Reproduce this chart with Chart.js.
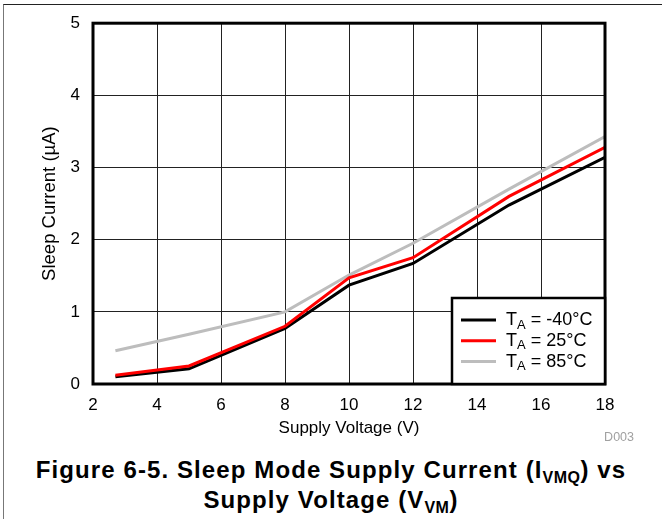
<!DOCTYPE html>
<html>
<head>
<meta charset="utf-8">
<script src="https://cdn.jsdelivr.net/npm/chart.js@4.4.1/dist/chart.umd.min.js"></script>
<style>
    body { margin: 0; background: #fff; font-family: "Liberation Sans", Arial, sans-serif; }
    #page { position: relative; width: 662px; height: 519px; overflow: hidden; }
    #frame { position: absolute; left: 3px; top: 4px; right: -5px; bottom: -5px;
             border-top: 1px solid #222; border-left: 1px solid #777; }
    #chart { position: absolute; left: 0; top: 0; }
    #code { position: absolute; right: 28px; top: 430px; font-size: 12.5px; color: #a0a0a0; }
    #caption { position: absolute; left: 0; top: 455px; width: 662px; text-align: center;
               font-weight: bold; font-size: 24px; letter-spacing: 1.1px; line-height: 30px; color: #000; }
    #caption sub { font-size: 16px; letter-spacing: 0.5px; vertical-align: -5px; line-height: 0; }
</style>
</head>
<body>
<div id="page">
    <div id="frame"></div>
    <canvas id="chart" width="662" height="445"></canvas>
    <div id="code">D003</div>
    <div id="caption">Figure 6-5. Sleep Mode Supply Current (I<sub>VMQ</sub>) vs<br>Supply Voltage (V<sub>VM</sub>)</div>
</div>
<script>
// supply voltage (V)
const voltage = [2.7, 5, 8, 10, 12, 15, 18];

// sleep current (uA) per ambient temperature
const currentMinus40 = [0.10, 0.21, 0.77, 1.37, 1.67, 2.48, 3.14];
const current25 = [0.12, 0.25, 0.80, 1.47, 1.75, 2.60, 3.28];
const current85 = [0.46, 0.69, 1.00, 1.51, 1.95, 2.70, 3.43];

const temps = ['-40°C', '25°C', '85°C'];
const colors = ['#000000', '#ff0000', '#bdbdbd'];

const xTicks = [2, 4, 6, 8, 10, 12, 14, 16, 18];
const yTicks = [0, 1, 2, 3, 4, 5];

const FONT = '"Liberation Sans", Arial, sans-serif';

function points(ys) {
    return voltage.map((v, i) => ({ x: v, y: ys[i] }));
}

// plot frame drawn on top of grid and lines
const framePlugin = {
    id: 'frame',
    afterDatasetsDraw(chart) {
        const { ctx, chartArea: a } = chart;
        ctx.save();
        ctx.strokeStyle = '#000';
        ctx.lineWidth = 3;
        ctx.strokeRect(a.left, a.top, a.right - a.left, a.bottom - a.top);
        ctx.restore();
    }
};

// boxed legend in the lower right corner, with T subscript A
const legendPlugin = {
    id: 'boxLegend',
    afterDraw(chart) {
        const { ctx, chartArea: a } = chart;
        const w = 153, h = 86;
        const x0 = a.right - w, y0 = a.bottom - h;
        ctx.save();
        ctx.fillStyle = '#fff';
        ctx.fillRect(x0, y0, w, h);
        ctx.strokeStyle = '#000';
        ctx.lineWidth = 2.5;
        ctx.strokeRect(x0, y0, w, h);

        chart.data.datasets.forEach((ds, i) => {
            const y = y0 + 22 + i * 20.8;
            ctx.strokeStyle = ds.borderColor;
            ctx.lineWidth = 3;
            ctx.beginPath();
            ctx.moveTo(x0 + 9, y);
            ctx.lineTo(x0 + 44, y);
            ctx.stroke();

            ctx.fillStyle = '#000';
            ctx.textBaseline = 'middle';
            let tx = x0 + 54;
            ctx.font = '18px ' + FONT;
            ctx.fillText('T', tx, y);
            tx += ctx.measureText('T').width;
            ctx.font = '13px ' + FONT;
            ctx.fillText('A', tx, y + 5);
            tx += ctx.measureText('A').width;
            ctx.font = '18px ' + FONT;
            ctx.fillText(' = ' + temps[i], tx, y);
        });
        ctx.restore();
    }
};

new Chart(
    document.getElementById('chart'),
    {
        type: 'line',
        data: {
            datasets: [
                { label: 'TA = ' + temps[0], data: points(currentMinus40), borderColor: colors[0], order: 2 },
                { label: 'TA = ' + temps[1], data: points(current25), borderColor: colors[1], order: 0 },
                { label: 'TA = ' + temps[2], data: points(current85), borderColor: colors[2], order: 1 },
            ]
        },
        options: {
            responsive: false,
            animation: false,
            devicePixelRatio: 1,
            layout: { padding: { left: 39, top: 23, right: 57, bottom: 6 } },
            elements: {
                line: { borderWidth: 3, tension: 0, fill: false },
                point: { radius: 0 }
            },
            plugins: {
                legend: { display: false },
                tooltip: { enabled: false }
            },
            scales: {
                x: {
                    type: 'linear',
                    min: 2,
                    max: 18,
                    afterBuildTicks: s => { s.ticks = xTicks.map(v => ({ value: v })); },
                    afterFit: s => { s.height = 55; },
                    grid: { color: '#222', lineWidth: 1, drawTicks: false },
                    border: { display: false },
                    ticks: { padding: 11, color: '#000', font: { family: FONT, size: 17 } },
                    title: {
                        display: true,
                        text: 'Supply Voltage (V)',
                        color: '#000',
                        font: { family: FONT, size: 17 },
                        padding: 0
                    }
                },
                y: {
                    min: 0,
                    max: 5,
                    afterBuildTicks: s => { s.ticks = yTicks.map(v => ({ value: v })); },
                    afterFit: s => { s.width = 54; },
                    grid: { color: '#222', lineWidth: 1, drawTicks: false },
                    border: { display: false },
                    ticks: { padding: 13, color: '#000', font: { family: FONT, size: 17 } },
                    title: {
                        display: true,
                        text: 'Sleep Current (µA)',
                        color: '#000',
                        font: { family: FONT, size: 18.5 },
                        padding: 0
                    }
                }
            }
        },
        plugins: [framePlugin, legendPlugin]
    }
);
</script>
</body>
</html>
